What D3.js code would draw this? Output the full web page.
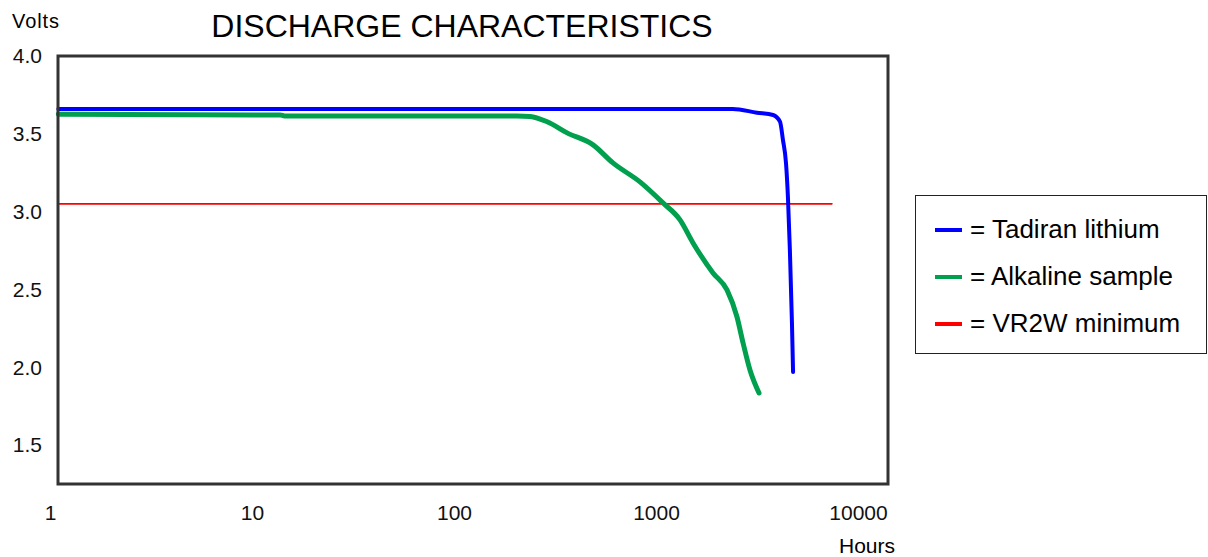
<!DOCTYPE html>
<html>
<head>
<meta charset="utf-8">
<script src="https://cdn.jsdelivr.net/npm/d3@7"></script>
<style>
  html, body { margin: 0; padding: 0; background: #fff; }
  svg { display: block; font-family: "Liberation Sans", Arial, sans-serif; }
</style>
</head>
<body>
<svg id="chart" width="1208" height="557"></svg>
<script>
// discharge curves (hours, volts)
const lithiumHours = [1.1, 500, 2400, 3160, 3800, 4110, 4250, 4400, 4500, 4600, 4710, 4770];
const lithiumVolts = [3.66, 3.66, 3.66, 3.636, 3.621, 3.578, 3.461, 3.313, 3.091, 2.754, 2.285, 1.97];

const alkalineHours = [1.1, 13.8, 14.5, 205, 238, 289, 363, 488, 612, 833, 1083, 1315, 1525, 1915, 2246, 2518, 2698, 2919, 3236];
const alkalineVolts = [3.625, 3.621, 3.615, 3.615, 3.612, 3.578, 3.506, 3.429, 3.313, 3.191, 3.056, 2.947, 2.799, 2.606, 2.497, 2.323, 2.156, 1.983, 1.835];

const minimumHours = [1.1, 7430];
const minimumVolts = [3.05, 3.05];

const xTicks = [1, 10, 100, 1000, 10000];
const yTicks = [1.5, 2.0, 2.5, 3.0, 3.5, 4.0];

const seriesNames = ['Tadiran lithium', 'Alkaline sample', 'VR2W minimum'];
const seriesColors = ['#0000ff', '#00a04e', '#ff0000'];
const seriesWidths = [4, 5, 1.6];

const svg = d3.select('#chart');
const box = { left: 58, right: 888, top: 56, bottom: 484 };

const xScale = d3.scaleLog()
  .domain([1, 10000])
  .range([50, 858]);

const yScale = d3.scaleLinear()
  .domain([1.25, 4.0])
  .range([box.bottom, box.top]);

// title and axis names
svg.append('text')
  .attr('x', 462)
  .attr('y', 37)
  .attr('text-anchor', 'middle')
  .style('font-size', '32px')
  .text('DISCHARGE CHARACTERISTICS');

svg.append('text')
  .attr('x', 12)
  .attr('y', 28)
  .style('font-size', '20px')
  .attr('textLength', 47)
  .text('Volts');

svg.append('text')
  .attr('x', 895)
  .attr('y', 553)
  .attr('text-anchor', 'end')
  .style('font-size', '21px')
  .text('Hours');

// tick labels
const xAxis = svg.append('g')
  .attr('transform', `translate(0,${box.bottom})`)
  .call(d3.axisBottom(xScale).tickValues(xTicks).tickFormat(d3.format('d')).tickSize(0).tickPadding(21));
xAxis.select('.domain').remove();
xAxis.selectAll('text').style('font-size', '21px').style('font-family', '"Liberation Sans", Arial, sans-serif').attr('fill', '#111');

const yAxis = svg.append('g')
  .attr('transform', 'translate(42,0)')
  .call(d3.axisLeft(yScale).tickValues(yTicks).tickFormat(d3.format('.1f')).tickSize(0).tickPadding(0));
yAxis.select('.domain').remove();
yAxis.selectAll('text').style('font-size', '21px').style('font-family', '"Liberation Sans", Arial, sans-serif').attr('fill', '#111');

// curves
const line = d3.line()
  .x(d => xScale(d[0]))
  .y(d => yScale(d[1]))
  .curve(d3.curveMonotoneX);

const series = [
  d3.zip(lithiumHours, lithiumVolts),
  d3.zip(alkalineHours, alkalineVolts),
  d3.zip(minimumHours, minimumVolts)
];

[2, 1, 0].forEach(i => {
  svg.append('path')
    .datum(series[i])
    .attr('d', line)
    .attr('fill', 'none')
    .attr('stroke', seriesColors[i])
    .attr('stroke-width', seriesWidths[i])
    .attr('stroke-linejoin', 'round')
    .attr('stroke-linecap', 'round');
});

// plot frame
svg.append('rect')
  .attr('x', box.left)
  .attr('y', box.top)
  .attr('width', box.right - box.left)
  .attr('height', box.bottom - box.top)
  .attr('fill', 'none')
  .attr('stroke', '#333')
  .attr('stroke-width', 3);

// legend
const legend = svg.append('g');
legend.append('rect')
  .attr('x', 915.5)
  .attr('y', 195.5)
  .attr('width', 291)
  .attr('height', 158)
  .attr('fill', '#fff')
  .attr('stroke', '#222')
  .attr('stroke-width', 1);

seriesNames.forEach((name, i) => {
  const y = 230 + i * 47;
  legend.append('line')
    .attr('x1', 935)
    .attr('x2', 962)
    .attr('y1', y)
    .attr('y2', y)
    .attr('stroke', seriesColors[i])
    .attr('stroke-width', 4);
  legend.append('text')
    .attr('x', 970)
    .attr('y', y + 8)
    .style('font-size', '26px')
    .text('= ' + name);
});
</script>
</body>
</html>
